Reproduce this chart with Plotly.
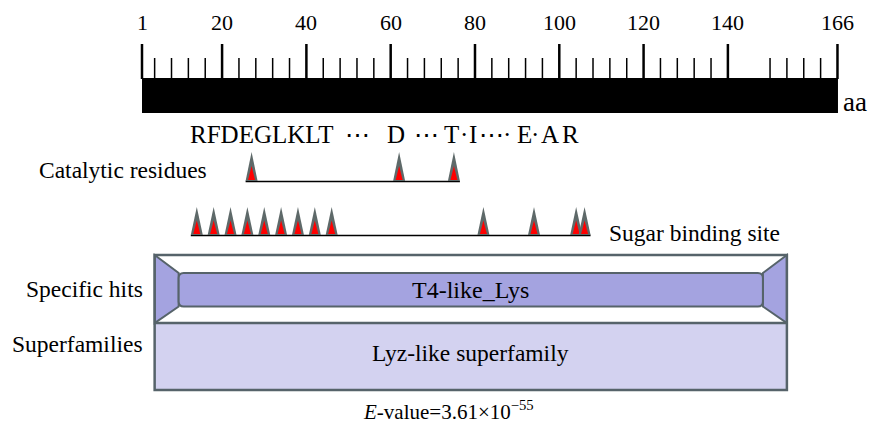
import plotly.graph_objects as go

# ---------------- data ----------------
ruler_ticks = [1, 20, 40, 60, 80, 100, 120, 140, 166]
protein_length = 166
catalytic_residues = [27, 62, 75]
sugar_binding_residues = [14, 18, 22, 26, 30, 34, 38, 42, 46, 82, 94, 104, 106]
specific_hit_name = "T4-like_Lys"
specific_hit_range = [4, 154]
superfamily_name = "Lyz-like superfamily"
superfamily_range = [4, 154]
sequence_tokens = ["RFDEGLKLT", "\u22ef", "D", "\u22ef", "T", "\u00b7", "I", "\u22ef", "\u00b7",
                   "E", "\u00b7", "A", "R"]
evalue_text = "<i>E</i>-value=3.61\u00d710<sup>\u221255</sup>"
track_labels = ["Catalytic residues", "Sugar binding site", "Specific hits", "Superfamilies"]

# ---------------- layout constants ----------------
W, H = 878, 429
PX_PER_AA = 4.215
X0_PX = 142  # pixel position of residue 1
FONT = "Liberation Serif, Times New Roman, serif"
BORDER = "#56636A"
HIT_FILL = "#A4A3E0"
SUPER_FILL = "#D3D2F0"
TRI_GRAY = "#5E6969"
TRI_RED = "#FF0000"

# horizontal placement (pixels, anchor) of each sequence token
token_layout = [(188, "left"), (357, "center"), (396, "center"), (426, "center"),
                (451, "center"), (463.5, "center"), (473, "center"), (491, "center"),
                (507, "center"), (524, "center"), (535, "center"), (550, "center"),
                (570, "center")]


def aa(px):
    """convert a pixel width to residue units"""
    return px / PX_PER_AA


x_range = [1 - X0_PX / PX_PER_AA, 1 + (W - X0_PX) / PX_PER_AA]

fig = go.Figure()
fig.add_trace(go.Scatter(x=[None], y=[None], showlegend=False))

shapes = []
annotations = []

# ---- ruler ----
shapes.append(dict(type="rect", x0=1, x1=protein_length + aa(0.5), y0=78, y1=113,
                   fillcolor="black", line=dict(width=0), layer="above"))
for t in ruler_ticks:
    shapes.append(dict(type="line", x0=t, x1=t, y0=44, y1=79,
                       line=dict(color="black", width=2.5)))
    annotations.append(dict(x=t, y=22, text=str(t), showarrow=False,
                            xanchor="center", yanchor="middle",
                            font=dict(family=FONT, size=22, color="black")))
for prev, nxt in zip(ruler_ticks[:-1], ruler_ticks[1:]):
    for j in range(1, 5):
        m = nxt - 4 * j
        if m > prev:
            shapes.append(dict(type="line", x0=m, x1=m, y0=58, y1=79,
                               line=dict(color="black", width=1.5)))
annotations.append(dict(x=protein_length + aa(4), y=102, text="aa", showarrow=False,
                        xanchor="left", yanchor="middle",
                        font=dict(family=FONT, size=27, color="black")))

# ---- sequence ----
for tok, (px, anc) in zip(sequence_tokens, token_layout):
    annotations.append(dict(x=px / W, xref="paper", y=134, text=tok,
                            showarrow=False, xanchor=anc, yanchor="middle",
                            font=dict(family=FONT, size=25, color="black")))


def triangles(positions, base_y, apex_y):
    hw = aa(6.0)
    rhw = aa(3.5)
    h = base_y - apex_y
    shapes.append(dict(type="line", x0=positions[0] - hw, x1=positions[-1] + hw,
                       y0=base_y + 0.5, y1=base_y + 0.5,
                       line=dict(color="black", width=1.5)))
    for p in positions:
        shapes.append(dict(type="path",
                           path=f"M {p - hw},{base_y} L {p},{apex_y} L {p + hw},{base_y} Z",
                           fillcolor=TRI_GRAY, line=dict(width=0)))
        shapes.append(dict(type="path",
                           path=f"M {p - rhw},{base_y - 1} L {p},{base_y - 0.52 * h} L {p + rhw},{base_y - 1} Z",
                           fillcolor=TRI_RED, line=dict(width=0)))


triangles(catalytic_residues, 181, 152)
triangles(sugar_binding_residues, 235, 207)

# ---- domain tracks ----
sx0, sx1 = superfamily_range
hx0, hx1 = specific_hit_range
top, mid, bot = 255, 323, 390
ins = aa(24)
in_top, in_bot = 273, 306.5

shapes.append(dict(type="rect", x0=sx0, x1=sx1, y0=mid, y1=bot,
                   fillcolor=SUPER_FILL, line=dict(width=0)))
shapes.append(dict(type="path",
                   path=f"M {hx0},{top} L {hx0 + ins},{in_top} L {hx0 + ins},{in_bot} L {hx0},{mid} Z",
                   fillcolor=HIT_FILL, line=dict(color=BORDER, width=2)))
shapes.append(dict(type="path",
                   path=f"M {hx1},{top} L {hx1 - ins},{in_top} L {hx1 - ins},{in_bot} L {hx1},{mid} Z",
                   fillcolor=HIT_FILL, line=dict(color=BORDER, width=2)))
r = 5
rx = aa(r)
a0, a1 = hx0 + ins, hx1 - ins
rounded = (f"M {a0 + rx},{in_top} L {a1 - rx},{in_top} Q {a1},{in_top} {a1},{in_top + r} "
           f"L {a1},{in_bot - r} Q {a1},{in_bot} {a1 - rx},{in_bot} "
           f"L {a0 + rx},{in_bot} Q {a0},{in_bot} {a0},{in_bot - r} "
           f"L {a0},{in_top + r} Q {a0},{in_top} {a0 + rx},{in_top} Z")
shapes.append(dict(type="path", path=rounded, fillcolor=HIT_FILL,
                   line=dict(color=BORDER, width=2)))
shapes.append(dict(type="line", x0=sx0, x1=sx1, y0=mid, y1=mid,
                   line=dict(color=BORDER, width=2.5)))
shapes.append(dict(type="rect", x0=sx0, x1=sx1, y0=top, y1=bot,
                   line=dict(color=BORDER, width=2.5)))

annotations.append(dict(x=(hx0 + hx1) / 2, y=290, text=specific_hit_name, showarrow=False,
                        xanchor="center", yanchor="middle",
                        font=dict(family=FONT, size=24, color="black")))
annotations.append(dict(x=(sx0 + sx1) / 2, y=353, text=superfamily_name, showarrow=False,
                        xanchor="center", yanchor="middle",
                        font=dict(family=FONT, size=23.5, color="black")))

# ---- track labels ----
label_pos = [(209, 170, "right"), (607, 233, "left"), (145, 289, "right"), (145, 344, "right")]
for txt, (px, py, anc) in zip(track_labels, label_pos):
    annotations.append(dict(x=px / W, xref="paper", y=py, text=txt, showarrow=False,
                            xanchor=anc, yanchor="middle",
                            font=dict(family=FONT, size=23.5, color="black")))

annotations.append(dict(x=448 / W, xref="paper", y=410, text=evalue_text, showarrow=False,
                        xanchor="center", yanchor="middle",
                        font=dict(family=FONT, size=21, color="black")))

fig.update_layout(
    width=W, height=H,
    margin=dict(l=0, r=0, t=0, b=0),
    paper_bgcolor="white", plot_bgcolor="white",
    xaxis=dict(range=x_range, visible=False, showgrid=False, zeroline=False, fixedrange=True),
    yaxis=dict(range=[H, 0], visible=False, showgrid=False, zeroline=False, fixedrange=True),
    shapes=shapes, annotations=annotations, showlegend=False,
)

fig.write_html("out.html", config={"displayModeBar": False},
               post_script="document.body.style.margin='0';document.body.style.overflow='hidden';")
